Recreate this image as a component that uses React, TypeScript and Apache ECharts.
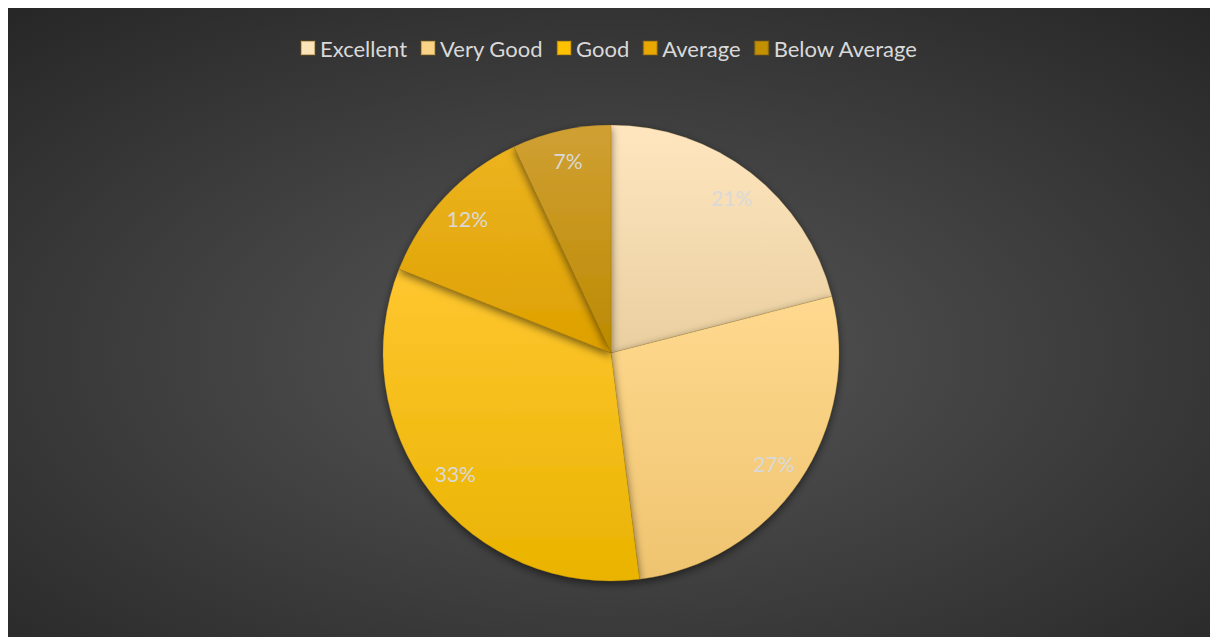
import React, { useEffect, useRef } from "react";
import * as echarts from "echarts";

const categories = ["Excellent", "Very Good", "Good", "Average", "Below Average"];
const values = [21, 27, 33, 12, 7];
const topColors = ["#FFE6BF", "#FFD98F", "#FFC730", "#EDB420", "#D0A034"];
const bottomColors = ["#E9CFA0", "#EFC470", "#E9B300", "#DDA000", "#BC8A00"];
const legendColors = ["#FDE3B8", "#FBD387", "#FFC000", "#E9A800", "#C29000"];

export default function App() {
  const ref = useRef<HTMLDivElement>(null);
  useEffect(() => {
    document.documentElement.style.overflow = "hidden";
    const chart = echarts.init(ref.current!, null, { renderer: "svg" });
    const grad = (i: number) =>
      new echarts.graphic.LinearGradient(0, 0, 0, 1, [
        { offset: 0, color: topColors[i] },
        { offset: 1, color: bottomColors[i] },
      ]);
    const data = categories.map((name, i) => ({
      name,
      value: values[i],
      itemStyle: { color: grad(i) },
    }));
    chart.setOption({
      animation: false,
      backgroundColor: new echarts.graphic.RadialGradient(0.5, 0.55, 0.75, [
        { offset: 0, color: "#575757" },
        { offset: 1, color: "#262626" },
      ]),
      color: legendColors,
      legend: {
        top: 24,
        left: "center",
        itemWidth: 14,
        itemHeight: 14,
        itemGap: 13,
        icon: "rect",
        textStyle: { color: "#D9D9D9", fontSize: 22, fontFamily: "Lato" },
        data: categories.map((c, i) => ({ name: c, itemStyle: { color: legendColors[i] } })),
      },
      series: [
        {
          type: "pie",
          center: [603, 345],
          radius: [0, 228],
          startAngle: 90,
          clockwise: true,
          label: { show: false },
          labelLine: { show: false },
          itemStyle: {
            borderColor: "rgba(120,90,20,0.35)",
            borderWidth: 0.5,
            shadowBlur: 8,
            shadowOffsetY: 3,
            shadowColor: "rgba(0,0,0,0.55)",
          },
          emphasis: { disabled: true },
          data,
        },
        {
          type: "pie",
          center: [603, 345],
          radius: [160, 228],
          startAngle: 90,
          clockwise: true,
          silent: true,
          legendHoverLink: false,
          itemStyle: { color: "rgba(0,0,0,0)" },
          label: {
            show: true,
            position: "inside",
            formatter: "{d}%",
            color: "#D9D9D9",
            fontSize: 21,
            fontFamily: "Lato",
          },
          labelLine: { show: false },
          emphasis: { disabled: true },
          data: categories.map((name, i) => ({ name, value: values[i], itemStyle: { color: "rgba(0,0,0,0)" } })),
        },
      ],
    });
    return () => chart.dispose();
  }, []);
  return (
    <div
      ref={ref}
      style={{ position: "absolute", left: 8, top: 8, width: 1202, height: 629 }}
    />
  );
}
